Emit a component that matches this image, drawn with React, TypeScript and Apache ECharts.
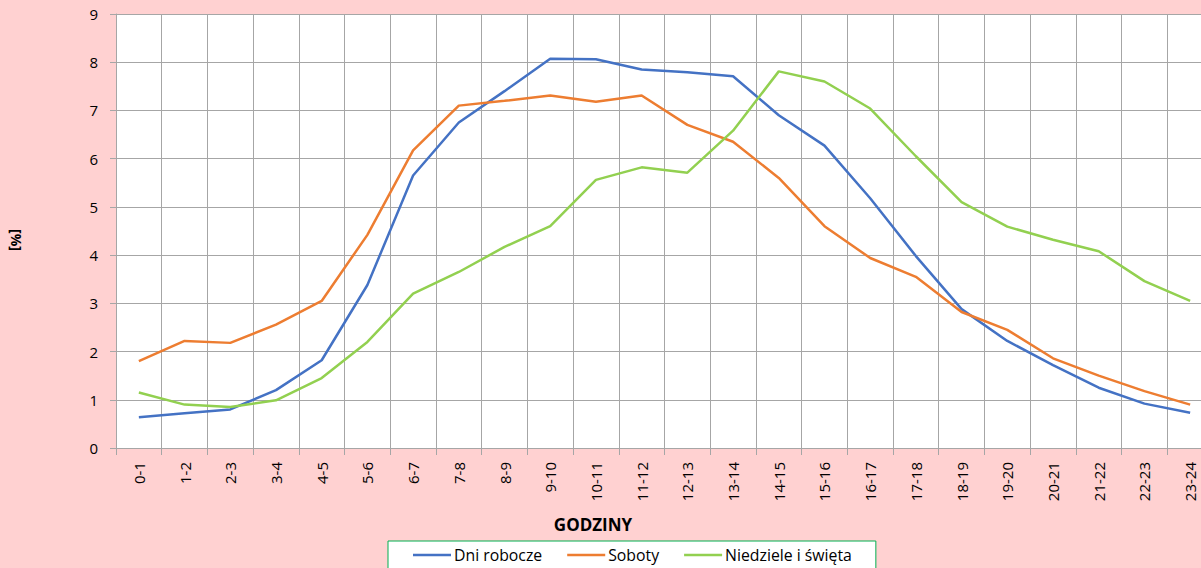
import React, { useEffect, useRef } from "react";
import * as echarts from "echarts";

const categories = [
  "0-1", "1-2", "2-3", "3-4", "4-5", "5-6", "6-7", "7-8", "8-9", "9-10", "10-11", "11-12",
  "12-13", "13-14", "14-15", "15-16", "16-17", "17-18", "18-19", "19-20", "20-21", "21-22", "22-23", "23-24",
];

const dniRobocze = [
  0.64, 0.72, 0.8, 1.2, 1.82, 3.38, 5.65, 6.75, 7.4, 8.07, 8.06, 7.85,
  7.79, 7.71, 6.9, 6.27, 5.18, 3.98, 2.88, 2.22, 1.72, 1.25, 0.92, 0.73,
];

const soboty = [
  1.8, 2.22, 2.18, 2.56, 3.05, 4.42, 6.17, 7.1, 7.2, 7.31, 7.18, 7.31,
  6.7, 6.35, 5.6, 4.6, 3.94, 3.55, 2.82, 2.45, 1.86, 1.5, 1.18, 0.9,
];

const niedziele = [
  1.15, 0.9, 0.85, 0.99, 1.45, 2.2, 3.2, 3.65, 4.17, 4.6, 5.56, 5.82,
  5.71, 6.58, 7.81, 7.6, 7.04, 6.05, 5.1, 4.59, 4.32, 4.08, 3.46, 3.05,
];

const seriesNames = ["Dni robocze", "Soboty", "Niedziele i święta"];
const seriesColors = ["#4472C4", "#ED7D31", "#92D050"];

export default function App() {
  const ref = useRef<HTMLDivElement>(null);

  useEffect(() => {
    document.body.style.margin = "0";
    if (!ref.current) return;
    const chart = echarts.init(ref.current, null, { renderer: "svg" });
    const font = "'Open Sans', 'Noto Sans', sans-serif";
    const data = [dniRobocze, soboty, niedziele];
    chart.setOption({
      animation: false,
      backgroundColor: "#FFD1D1",
      textStyle: { fontFamily: font },
      grid: { left: 116, right: 0, top: 14, bottom: 120, containLabel: false, show: true, backgroundColor: "#FFFFFF", borderWidth: 0 },
      xAxis: {
        type: "category",
        data: categories,
        boundaryGap: true,
        axisLine: { show: true, lineStyle: { color: "#A6A6A6", width: 1 } },
        axisTick: { show: true, length: 7, lineStyle: { color: "#A6A6A6" } },
        splitLine: { show: true, lineStyle: { color: "#A6A6A6", width: 1 } },
        axisLabel: { rotate: 90, margin: 14, fontSize: 15, color: "#000000", fontFamily: font, interval: 0 },
      },
      yAxis: {
        type: "value",
        min: 0,
        max: 9,
        interval: 1,
        axisLine: { show: true, lineStyle: { color: "#A6A6A6", width: 1 } },
        axisTick: { show: true, length: 6, lineStyle: { color: "#A6A6A6" } },
        splitLine: { show: true, lineStyle: { color: "#A6A6A6", width: 1 } },
        axisLabel: { margin: 18, fontSize: 15, color: "#000000", fontFamily: font },
      },
      legend: {
        data: seriesNames,
        left: 388,
        top: 541,
        icon: "rect",
        itemWidth: 38,
        itemHeight: 2.5,
        itemGap: 25,
        backgroundColor: "#FFFFFF",
        borderColor: "#00B050",
        borderWidth: 1,
        borderRadius: 0,
        padding: [6, 24, 20, 25],
        textStyle: { fontSize: 15.8, color: "#000000", fontFamily: font, padding: [0, 0, 0, -2] },
      },
      graphic: [
        {
          type: "text",
          x: 593,
          y: 524,
          style: { text: "GODZINY", font: `bold 17px ${font}`, fill: "#000000", textAlign: "center", textVerticalAlign: "middle" },
        },
        {
          type: "text",
          x: 16,
          y: 240,
          rotation: -Math.PI / 2,
          style: { text: "[%]", font: `bold 14px ${font}`, fill: "#000000", textAlign: "center", textVerticalAlign: "middle" },
        },
      ],
      series: data.map((d, i) => ({
        name: seriesNames[i],
        type: "line",
        data: d,
        symbol: "none",
        smooth: false,
        lineStyle: { color: seriesColors[i], width: 2.5 },
        itemStyle: { color: seriesColors[i] },
      })),
    });
    return () => chart.dispose();
  }, []);

  return (
    <div style={{ width: 1201, height: 568, overflow: "hidden", position: "relative" }}>
      <div ref={ref} style={{ width: 1213, height: 568 }} />
    </div>
  );
}
